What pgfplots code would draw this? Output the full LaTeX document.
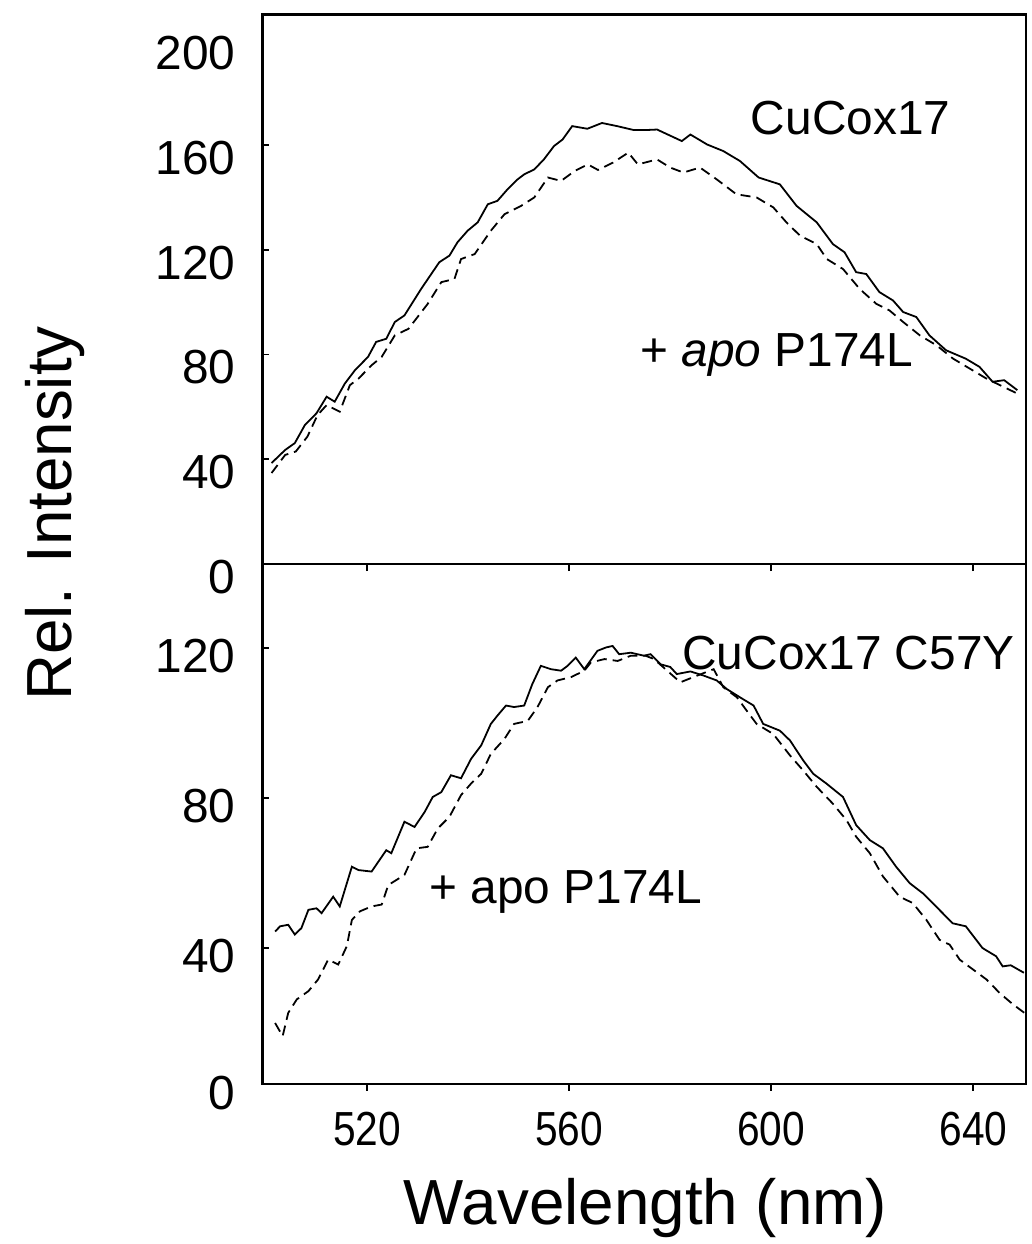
\documentclass[border=0pt]{standalone}
\usepackage{pgfplots}
\pgfplotsset{compat=1.18}
\usepackage{graphicx}
\usepackage{fontspec}
\setmainfont{Liberation Sans}

\newcommand{\tickfont}{\fontsize{24}{28}\selectfont}
\newcommand{\labfont}{\fontsize{32}{38}\selectfont}

\pgfplotsset{
  panel/.style={
    scale only axis,
    width=383.25pt,
    xmin=499.3, xmax=650.4,
    xtick={520,560,600,640},
    tick pos=left,
    xtick align=outside,
    ytick align=inside,
    major tick length=3.5pt,
    axis line style={line width=1.1pt},
    tick style={line width=1pt, black},
    tick label style={font=\tickfont},
    /pgf/number format/assume math mode=true,
    clip=false,
  },
  solid curve/.style={black, line width=0.9pt},
  dash curve/.style={black, line width=0.9pt, dash pattern=on 5pt off 3pt},
}

\begin{document}
\begin{tikzpicture}

% upper panel: CuCox17
\begin{axis}[panel, name=top,
    height=276pt,
    ymin=0, ymax=209.7,
    xticklabels={},
    ytick={40,80,120,160},
    extra y ticks={0,200},
    extra y tick style={major tick length=0pt},
    yticklabel style={yshift=-6.5pt, xshift=-10pt},
]
\addplot[solid curve] coordinates {
 (501.1,38.6)(503.8,43.6)(505.7,46.2)(507.7,53.1)(510.0,57.6)(512.0,63.9)(513.6,62.0)
 (515.6,68.9)(517.6,74.0)(520.2,79.1)(521.8,84.8)(523.8,86.0)(525.5,92.4)(527.4,94.9)
 (530.7,105.0)(534.3,115.2)(536.3,117.7)(537.9,122.8)(539.9,127.2)(541.9,130.4)(543.9,137.3)
 (545.8,138.6)(547.8,143.0)(549.8,146.8)(551.1,148.7)(553.1,150.6)(555.0,154.4)(557.0,159.5)
 (558.7,162.0)(560.6,167.1)(563.6,166.1)(566.5,168.3)(569.5,167.1)(572.8,165.6)(575.1,165.6)
 (577.4,165.8)(582.3,161.4)(584.0,163.9)(587.3,160.1)(590.5,157.6)(593.8,153.8)(597.5,147.5)
 (601.7,144.9)(605.0,136.7)(609.0,130.4)(612.2,122.1)(614.5,119.0)(616.8,111.4)(618.8,110.7)
 (621.4,103.8)(624.1,100.6)(626.1,96.2)(628.7,94.3)(631.3,87.3)(634.6,81.6)(638.5,78.4)
 (641.2,75.3)(643.8,69.6)(646.1,70.2)(648.7,66.4)
};
\addplot[dash curve] coordinates {
 (501.1,34.8)(503.8,41.7)(505.9,43.0)(508.2,48.7)(510.2,56.9)(512.0,60.7)(514.6,58.2)
 (516.6,68.3)(518.3,70.8)(520.9,75.9)(522.9,79.1)(525.5,87.3)(528.2,89.8)(532.0,99.3)
 (534.7,107.6)(537.3,108.8)(538.6,116.4)(541.3,118.3)(544.5,127.2)(547.2,133.5)(550.5,136.7)
 (553.1,139.9)(555.8,147.5)(558.4,146.2)(561.1,150.0)(563.7,152.5)(565.7,150.4)(568.7,153.2)
 (571.7,157.0)(573.6,152.5)(577.4,154.4)(580.0,151.3)(582.6,149.4)(585.9,151.3)(589.2,146.8)
 (593.1,141.1)(597.1,139.9)(600.4,136.1)(603.0,130.4)(605.7,125.3)(609.0,122.1)(611.0,116.4)
 (614.2,112.6)(617.5,105.0)(620.8,99.3)(623.4,96.8)(626.1,92.4)(629.4,87.3)(632.7,83.5)
 (636.0,78.4)(639.3,74.6)(642.6,70.8)(645.9,67.7)(648.7,65.1)
};
\node[font=\tickfont, anchor=base] at (axis cs:615.7,163.9) {CuCox17};
\node[font=\tickfont, anchor=base] at (axis cs:601.1,75.4) {+ \textit{apo} P174L};
\end{axis}

% lower panel: CuCox17 C57Y
\begin{axis}[panel, name=bot,
    at={(top.south west)}, anchor=north west,
    height=260.75pt,
    ymin=3.8, ymax=142.4,
    ytick={40,80,120},
    yticklabel style={yshift=-4pt, xshift=-10pt},
    xticklabel={\scalebox{0.85}[1]{\pgfmathprintnumber{\tick}}},
    xticklabel style={yshift=-7pt},
]
\addplot[solid curve] coordinates {
 (501.8,44.4)(502.8,45.8)(504.4,46.2)(505.7,43.6)(507.0,45.3)(508.4,50.2)(510.0,50.6)
 (511.0,49.3)(513.3,53.7)(514.6,51.1)(517.0,61.7)(518.3,60.8)(520.9,60.4)(523.8,66.1)
 (524.8,65.3)(527.4,73.7)(529.4,72.3)(531.4,76.3)(533.0,80.3)(534.7,81.6)(536.6,86.1)
 (538.6,85.3)(540.6,90.5)(542.6,94.1)(544.5,99.8)(545.8,102.0)(547.5,104.7)(549.1,104.3)
 (551.1,104.7)(552.7,110.4)(554.4,115.3)(556.4,114.4)(558.4,114.0)(559.7,115.3)(561.3,117.5)
 (563.0,114.4)(565.6,119.3)(567.3,120.2)(568.6,120.6)(569.9,118.4)(572.2,118.8)(574.8,118.0)
 (576.1,118.4)(578.1,115.7)(580.0,115.0)(581.3,113.1)(584.0,113.8)(586.6,112.7)(589.2,111.4)
 (591.2,109.1)(593.8,106.9)(596.5,104.7)(598.4,99.8)(601.7,98.0)(603.7,95.4)(606.3,90.1)
 (608.3,86.5)(610.9,83.9)(614.2,80.3)(616.8,72.8)(619.5,68.8)(622.1,66.6)(624.7,61.7)
 (627.4,57.3)(630.0,54.6)(632.6,51.1)(635.9,46.6)(638.5,45.8)(641.8,40.0)(644.5,37.8)
 (645.8,35.1)(647.4,35.4)(650.0,33.4)
};
\addplot[dash curve] coordinates {
 (501.8,20.0)(503.3,16.5)(504.4,22.7)(506.1,26.3)(508.4,28.5)(510.3,31.6)(512.3,36.9)
 (514.3,35.6)(516.0,40.5)(517.0,47.5)(518.6,49.8)(520.9,51.1)(522.9,51.6)(524.2,56.8)
 (527.4,59.5)(529.8,66.6)(532.0,67.0)(534.0,71.9)(536.3,75.0)(538.6,80.8)(540.6,83.9)
 (542.6,86.5)(544.5,91.8)(547.2,95.8)(549.1,99.8)(551.8,100.6)(553.7,104.2)(555.8,109.6)
 (557.7,111.4)(560.4,112.3)(563.0,114.0)(564.3,116.2)(567.0,117.1)(569.6,116.6)(572.2,118.0)
 (575.1,118.0)(576.8,117.1)(579.4,114.0)(582.0,110.9)(584.6,112.3)(588.6,114.4)(590.5,109.6)
 (593.2,106.9)(595.1,103.4)(597.1,99.8)(600.4,97.1)(603.7,91.4)(606.3,87.4)(609.0,83.0)
 (612.2,78.5)(614.9,74.1)(616.8,69.7)(619.5,65.3)(622.1,59.1)(625.4,53.7)(628.0,52.0)
 (630.7,47.5)(633.3,42.2)(635.3,40.9)(637.3,36.9)(639.9,34.3)(642.6,31.6)(645.2,28.0)
 (647.8,25.0)(650.1,22.7)
};
\node[font=\tickfont, anchor=base] at (axis cs:615.3,114.4) {CuCox17 C57Y};
\node[font=\tickfont, anchor=base] at (axis cs:559.3,51.9) {+ apo P174L};
\node[font=\tickfont, anchor=east, xshift=-10pt, yshift=-4.5pt] at (rel axis cs:0,0) {0};
\end{axis}

% shared axis titles
\node[font=\labfont, rotate=90, anchor=base] at ([shift={(-95.75pt,25.5pt)}]top.south west) {Rel. Intensity};
\node[font=\labfont, anchor=base] at ([shift={(192.25pt,-70.5pt)}]bot.south west) {Wavelength (nm)};

% page frame in the reference's proportions
\path ([shift={(-131.75pt,-338.75pt)}]top.south west) rectangle ++(518pt,622pt);
\end{tikzpicture}
\end{document}
